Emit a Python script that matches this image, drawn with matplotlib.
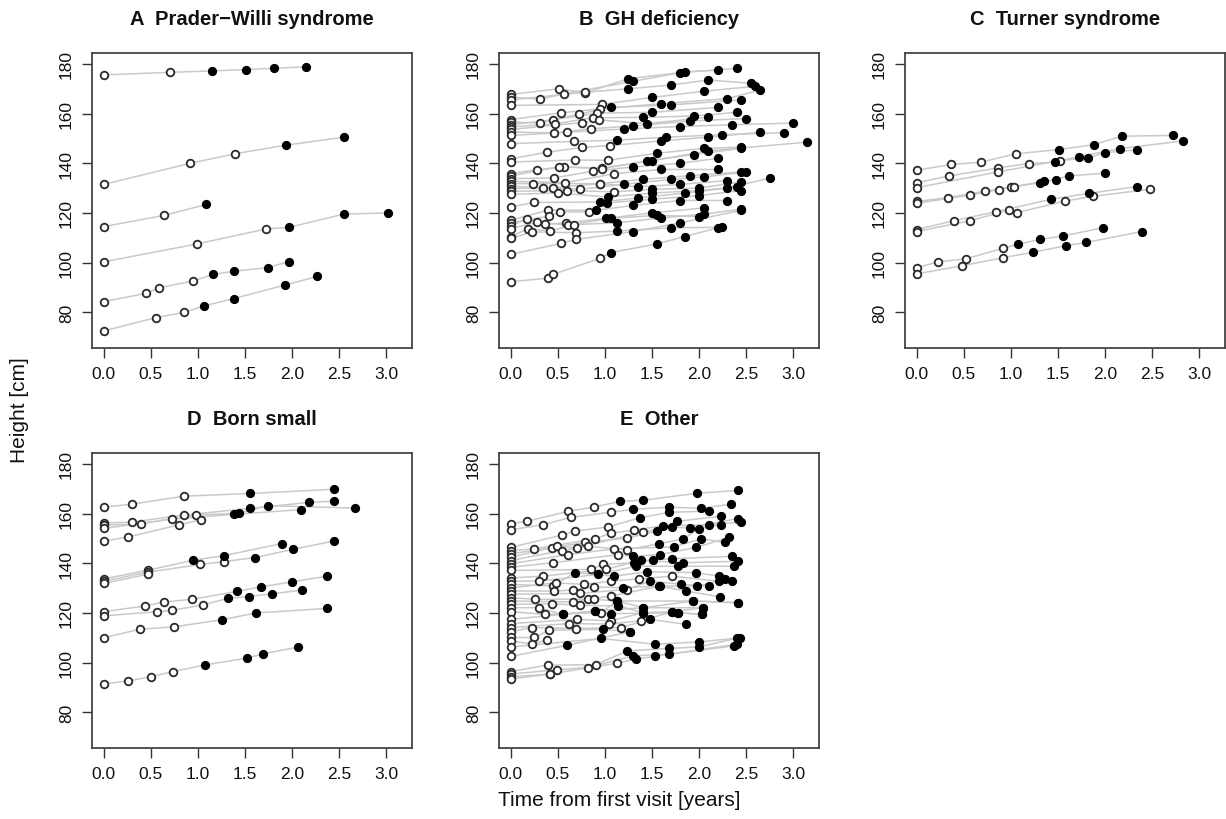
import matplotlib
matplotlib.use("Agg")
import matplotlib.pyplot as plt

plt.rcParams['font.family'] = ['Liberation Sans', 'DejaVu Sans']

# ---------------- data: per panel, per child: times (years), heights (cm), number of leading open points
A_t = [[0, 0.70, 1.15, 1.51, 1.81, 2.15],
       [0, 0.92, 1.39, 1.94, 2.55],
       [0, 0.64, 1.09],
       [0, 0.99, 1.72, 1.97, 2.55, 3.02],
       [0, 0.45, 0.59, 0.95, 1.16, 1.38, 1.74, 1.97],
       [0, 0.55, 0.85, 1.07, 1.38, 1.93, 2.27]]
A_h = [[175.6, 176.6, 177.2, 177.7, 178.3, 178.8],
       [131.5, 140.0, 143.8, 147.3, 150.5],
       [114.5, 119.0, 123.4],
       [100.3, 107.5, 113.5, 114.2, 119.5, 120.0],
       [84.3, 87.6, 89.9, 92.6, 95.2, 96.5, 98.0, 100.4],
       [72.5, 77.8, 79.9, 82.6, 85.5, 91.0, 94.4]]
A_open = [2, 3, 2, 3, 4, 3]

B_t = [[0, 0.51, 0.79, 1.25, 1.80, 2.40],
       [0, 0.31, 0.57, 1.30, 1.85, 2.20],
       [0, 0.79, 1.25, 1.70, 2.10, 2.55],
       [0, 0.97, 1.50, 2.05, 2.60],
       [0, 0.53, 0.95, 1.60, 2.30, 2.65],
       [0, 0.31, 0.72, 1.07, 1.70, 2.45],
       [0, 0.45, 0.92, 1.50, 2.20],
       [0, 0.47, 0.87, 1.40, 1.95, 2.40],
       [0, 0.76, 0.94, 1.45, 2.10],
       [0, 0.46, 0.85, 1.30, 1.90, 2.50],
       [0, 0.60, 1.20, 1.80, 2.35, 3.00],
       [0, 0.67, 1.13, 1.65, 2.25, 2.90],
       [0, 0.38, 0.76, 1.05, 1.60, 2.10, 2.65],
       [0, 0.68, 1.03, 1.55, 2.05, 2.45],
       [0, 0.28, 0.57, 0.97, 1.50, 2.10, 3.15],
       [0, 0.51, 0.97, 1.45, 1.95, 2.45],
       [0, 0.46, 0.87, 1.30, 1.80, 2.20],
       [0, 0.58, 1.10, 1.60, 2.20],
       [0, 0.24, 0.95, 1.40, 1.90, 2.45],
       [0, 0.34, 0.74, 1.20, 1.70, 2.05, 2.50],
       [0, 0.45, 0.95, 1.35, 1.80, 2.30],
       [0, 0.60, 1.10, 1.50, 2.00, 2.45],
       [0, 0.50, 1.03, 1.50, 2.00, 2.40],
       [0, 0.25, 0.95, 1.35, 1.85, 2.30, 2.75],
       [0, 0.40, 0.91, 1.30, 1.80, 2.30],
       [0, 0.41, 0.52, 0.83, 1.02, 1.50, 2.00, 2.45],
       [0, 0.17, 0.36, 0.59, 1.01, 1.50, 2.05],
       [0, 0.28, 0.61, 1.06, 1.55, 2.00],
       [0, 0.18, 0.42, 0.67, 1.13, 1.60, 2.05, 2.45],
       [0, 0.23, 0.69, 1.13, 1.70, 2.25],
       [0, 0.53, 0.69, 1.30, 1.80, 2.45],
       [0, 0.39, 0.45, 0.95, 1.06, 1.55, 1.85, 2.20]]
B_h = [[167.7, 170.0, 168.4, 174.0, 176.5, 178.2],
       [166.6, 165.8, 168.0, 173.0, 176.8, 177.5],
       [165.5, 168.6, 170.0, 171.5, 173.5, 172.2],
       [163.3, 163.7, 166.5, 169.0, 171.0],
       [157.6, 160.3, 161.9, 164.0, 166.0, 169.5],
       [156.6, 156.2, 159.8, 162.5, 163.5, 165.5],
       [155.5, 157.5, 160.2, 160.5, 162.5],
       [154.6, 155.9, 158.3, 158.5, 159.0, 160.5],
       [153.6, 156.4, 157.4, 156.0, 158.5],
       [152.6, 152.2, 153.9, 155.0, 157.0, 158.0],
       [151.2, 152.5, 153.8, 154.8, 155.5, 156.2],
       [147.9, 148.8, 149.3, 150.5, 151.5, 152.3],
       [141.8, 144.4, 146.4, 147.1, 149.0, 150.5, 152.5],
       [140.5, 141.3, 141.2, 144.0, 146.0, 146.5],
       [135.8, 137.4, 138.5, 138.1, 141.0, 145.0, 148.5],
       [134.9, 138.6, 137.8, 141.0, 143.5, 146.0],
       [133.8, 134.1, 136.8, 138.5, 140.0, 142.0],
       [132.7, 132.2, 135.8, 137.5, 137.5],
       [131.8, 131.8, 131.8, 133.5, 135.0, 136.5],
       [130.7, 130.2, 129.5, 131.5, 133.5, 134.5, 136.5],
       [129.8, 130.2, 131.8, 130.5, 131.5, 133.0],
       [128.7, 129.0, 128.5, 129.5, 130.0, 132.5],
       [127.5, 128.0, 126.4, 128.0, 129.0, 130.5],
       [122.4, 124.2, 124.4, 126.0, 128.0, 130.0, 134.0],
       [117.1, 121.1, 121.1, 123.0, 125.0, 125.0],
       [116.0, 118.8, 120.4, 120.4, 124.0, 125.5, 127.0, 129.0],
       [114.8, 117.5, 115.5, 116.0, 117.8, 120.0, 122.0],
       [113.7, 116.2, 115.1, 117.8, 119.0, 118.5],
       [110.4, 113.7, 112.7, 115.3, 116.0, 118.0, 119.5, 121.5],
       [109.7, 112.4, 112.0, 112.7, 114.0, 114.2],
       [103.3, 107.7, 109.3, 112.5, 116.0, 121.0],
       [92.3, 93.7, 95.3, 101.7, 104.0, 107.5, 110.5, 114.0]]
B_open = [3, 3, 2, 2, 3, 3, 3, 3, 3, 3, 2, 2, 4, 3, 4, 3, 3, 3, 3, 3, 3, 3, 2, 2,
          2, 4, 4, 3, 4, 3, 3, 4]

C_t = [[0, 0.36, 0.68, 1.05, 1.51, 1.88, 2.18, 2.72],
       [0, 0.34, 0.86, 1.19, 1.47, 1.72, 2.16, 2.83],
       [0, 0.86, 1.52, 1.82, 2.00, 2.34],
       [0, 0.33, 0.72, 1.00, 1.31, 1.62, 2.00],
       [0, 0.57, 0.87, 1.03, 1.35, 1.48],
       [0, 0.40, 0.84, 1.43, 1.83, 2.34],
       [0, 0.57, 0.98, 1.06, 1.58, 1.87, 2.48],
       [0, 0.23, 0.52, 0.92, 1.08, 1.31, 1.55, 1.98],
       [0, 0.48, 0.92, 1.24, 1.59, 1.80, 2.39]]
C_h = [[137.2, 139.5, 140.4, 143.8, 145.5, 147.5, 150.9, 151.2],
       [132.1, 134.9, 138.1, 139.9, 140.4, 142.7, 145.9, 149.0],
       [130.2, 136.5, 141.1, 142.1, 144.3, 145.4],
       [124.6, 126.2, 128.7, 130.5, 132.1, 134.9, 136.0],
       [123.9, 127.2, 129.4, 130.5, 132.8, 133.3],
       [113.3, 116.9, 120.5, 125.5, 127.9, 130.6],
       [112.5, 116.9, 121.2, 120.1, 124.8, 126.7, 129.5],
       [98.0, 100.3, 101.5, 105.8, 107.4, 109.3, 110.7, 114.0],
       [95.5, 98.7, 102.0, 104.2, 106.8, 108.1, 112.5]]
C_open = [4, 4, 3, 4, 4, 3, 7, 4, 3]

D_t = [[0, 0.30, 0.85, 1.55, 2.45],
       [0, 0.30, 0.85, 1.55, 2.18, 2.45],
       [0, 0.39, 0.98, 1.44, 1.75, 2.67],
       [0, 0.72, 1.38, 2.10],
       [0, 0.26, 0.80, 1.03],
       [0, 0.47, 0.95, 1.28, 1.89],
       [0, 0.47, 1.02, 1.28, 1.61, 2.01, 2.45],
       [0, 0.47],
       [0, 0.44, 0.64, 0.94, 1.42, 1.67, 2.00, 2.37],
       [0, 0.56, 0.72, 1.05, 1.32, 1.54, 1.79, 2.11],
       [0, 0.38, 0.75, 1.26, 1.62, 2.37],
       [0, 0.26, 0.50, 0.74, 1.08, 1.52, 1.69, 2.06]]
D_h = [[162.6, 163.8, 167.0, 168.1, 169.8],
       [156.2, 156.6, 159.4, 162.1, 164.5, 165.0],
       [155.3, 155.9, 159.4, 160.2, 163.2, 162.2],
       [154.0, 157.8, 159.7, 161.6],
       [148.9, 150.6, 155.5, 157.5],
       [133.7, 137.2, 141.2, 143.1, 147.9],
       [132.8, 136.4, 139.5, 140.7, 142.3, 145.6, 149.0],
       [131.9, 135.6],
       [120.5, 122.8, 124.4, 125.5, 128.7, 130.5, 132.5, 134.8],
       [118.8, 120.5, 121.0, 123.2, 125.9, 126.6, 127.7, 129.2],
       [110.0, 113.4, 114.4, 117.3, 120.0, 121.8],
       [91.5, 92.6, 94.3, 96.4, 99.1, 101.8, 103.5, 106.2]]
D_open = [3, 3, 3, 2, 4, 2, 4, 2, 4, 4, 3, 4]

E_t = [[0, 0.17, 0.61, 0.88, 1.16, 1.41, 1.98, 2.41],
       [0, 0.34, 0.64, 1.07, 1.30, 1.68, 2.02, 2.34],
       [0, 0.54, 0.68, 1.03, 1.37, 1.68, 2.11],
       [0, 0.25, 0.89, 1.07, 1.31, 1.62, 2.11, 2.45],
       [0, 0.44, 0.79, 1.23, 1.55, 1.77, 2.23],
       [0, 0.49, 0.70, 1.41, 1.71, 1.90, 2.41],
       [0, 0.54, 0.82, 1.24, 1.58, 1.83, 2.00, 2.23],
       [0, 0.61, 1.10, 1.73, 2.02, 2.28],
       [0, 0.45, 1.14, 1.30, 1.59, 1.97, 2.32],
       [0, 0.85, 0.98, 1.31, 1.51, 1.71, 2.35],
       [0, 0.34, 1.01, 1.38, 1.83, 2.41],
       [0, 0.30, 0.93, 1.33, 1.78, 2.37],
       [0, 0.45, 0.68, 1.10, 1.45, 1.97, 2.21],
       [0, 0.48, 0.78, 1.07, 1.36, 1.71, 2.21, 2.35],
       [0, 0.46, 0.66, 0.88, 1.19, 1.57, 1.98, 2.28],
       [0, 0.73, 1.23, 1.48, 1.81, 2.11],
       [0, 0.26, 0.82, 1.06, 1.59, 1.86, 2.22],
       [0, 0.66, 0.88, 1.13, 1.41, 1.94, 2.41],
       [0, 0.44, 0.73, 1.14, 1.41, 1.71, 2.04],
       [0, 0.30, 0.55, 0.89, 1.06, 1.78, 2.03],
       [0, 0.36, 0.96, 1.13, 1.94, 2.41],
       [0, 0.55, 0.89, 1.41, 2.04],
       [0, 0.70, 1.06, 1.41, 1.78, 2.03],
       [0, 0.62, 1.04, 1.38, 1.71],
       [0, 0.22, 0.69, 1.17, 1.48, 1.86],
       [0, 0.25, 0.41, 0.98, 1.27],
       [0, 0.23, 0.38],
       [0, 0.96, 1.53, 2.00, 2.44],
       [0, 0.60, 1.27],
       [0, 0.39, 0.90, 1.24, 1.68, 2.00, 2.40],
       [0, 0.49, 0.82, 1.30, 1.68, 2.37],
       [0, 0.42, 1.13, 1.33, 1.53, 2.40],
       [0, 0.42]]
E_h = [[155.9, 156.9, 160.9, 162.6, 164.9, 165.4, 168.2, 169.3],
       [153.5, 155.5, 158.5, 160.6, 161.7, 162.6, 162.1, 163.8],
       [146.4, 151.3, 152.9, 154.6, 158.3, 160.5, 161.0],
       [145.1, 145.8, 149.8, 152.2, 153.3, 155.1, 155.5, 156.6],
       [143.8, 146.2, 148.4, 150.1, 152.9, 156.9, 158.9],
       [142.4, 146.8, 146.2, 152.6, 154.6, 154.2, 158.0],
       [141.1, 145.1, 146.8, 145.5, 147.9, 149.8, 153.9, 155.5],
       [139.8, 143.5, 145.8, 146.6, 149.8, 148.4],
       [138.4, 140.2, 143.5, 142.8, 143.5, 146.4, 150.4],
       [137.1, 137.5, 139.5, 140.2, 141.5, 141.8, 142.8],
       [134.1, 134.8, 137.5, 141.2, 140.2, 140.8],
       [132.8, 132.8, 135.5, 138.8, 138.8, 138.8],
       [131.5, 130.8, 136.2, 134.8, 136.6, 136.2, 134.8],
       [130.1, 132.1, 131.5, 132.8, 133.7, 134.8, 132.8, 132.8],
       [128.8, 128.8, 129.2, 130.5, 130.1, 130.8, 130.8, 133.5],
       [127.5, 127.9, 129.4, 132.8, 131.5, 130.8],
       [126.1, 125.5, 125.5, 126.8, 130.8, 128.8, 126.5],
       [124.8, 124.4, 125.5, 124.8, 122.1, 124.8, 124.1],
       [123.5, 123.7, 123.1, 122.8, 120.1, 120.4, 122.1],
       [122.1, 122.1, 119.4, 120.8, 119.7, 120.1, 119.4],
       [120.5, 119.4, 120.1, 124.8, 124.8, 124.1],
       [117.4, 119.4, 120.8, 122.1, 122.1],
       [115.7, 117.4, 116.8, 120.1, 120.1, 119.4],
       [114.1, 115.7, 115.5, 116.8, 120.4],
       [112.4, 114.1, 113.7, 114.1, 117.4, 115.4],
       [110.1, 110.1, 113.0, 113.4, 112.4],
       [108.7, 107.4, 109.1],
       [106.3, 109.7, 107.4, 108.3, 110.0],
       [102.5, 107.0, 112.4],
       [96.4, 99.0, 99.1, 104.7, 105.7, 106.3, 109.8],
       [95.4, 97.1, 98.0, 102.7, 103.4, 106.7],
       [94.3, 95.4, 99.8, 101.4, 102.5, 107.4],
       [93.4, 95.4]]
E_open = [4, 4, 4, 5, 4, 4, 4, 3, 3, 3, 3, 2, 2, 6, 4, 3, 4, 4, 3, 2,
          3, 1, 3, 4, 4, 3, 3, 1, 1, 3, 3, 3, 2]

titles = ["A  Prader\u2212Willi syndrome", "B  GH deficiency", "C  Turner syndrome",
          "D  Born small", "E  Other"]
x_ticks = [0.0, 0.5, 1.0, 1.5, 2.0, 2.5, 3.0]
y_ticks = [80, 100, 120, 140, 160, 180]

# ---------------- layout (pixels)
W, H = 1226, 820
fig = plt.figure(figsize=(W / 100, H / 100), dpi=100)
BOX_W, BOX_H = 320, 295
lefts = [92, 499, 905]
tops = [54, 454]


def rect(l, t):
    return [l / W, 1 - (t + BOX_H) / H, BOX_W / W, BOX_H / H]


panels = [(A_t, A_h, A_open), (B_t, B_h, B_open), (C_t, C_h, C_open),
          (D_t, D_h, D_open), (E_t, E_h, E_open)]
positions = [(lefts[0], tops[0]), (lefts[1], tops[0]), (lefts[2], tops[0]),
             (lefts[0], tops[1]), (lefts[1], tops[1])]

edge = '#2a2a2a'
for (ts, hs, nopen), (l, t), title in zip(panels, positions, titles):
    ax = fig.add_axes(rect(l, t))
    for tt, hh, k in zip(ts, hs, nopen):
        ax.plot(tt, hh, color='#c9c9c9', lw=1.1, zorder=1, solid_capstyle='butt')
        ax.scatter(tt[:k], hh[:k], s=30, facecolor='white', edgecolor=edge,
                   linewidths=1.3, zorder=3)
        ax.scatter(tt[k:], hh[k:], s=34, facecolor='black', edgecolor='black',
                   linewidths=0.8, zorder=4)
    ax.set_xlim(-0.126, 3.276)
    ax.set_ylim(65.6, 184.4)
    ax.set_xticks(x_ticks)
    ax.set_xticklabels([f"{v:.1f}" for v in x_ticks])
    ax.set_yticks(y_ticks)
    ax.set_yticklabels([str(v) for v in y_ticks], rotation=90, va='center')
    ax.tick_params(direction='out', length=7, width=1.0, labelsize=12.5,
                   color='#333333', labelcolor='#111111', pad=6)
    for s in ax.spines.values():
        s.set_linewidth(1.3)
        s.set_color('#444444')
    ax.set_title(title, fontsize=14.5, fontweight='bold', pad=21, color='#111111')

fig.text(0.016, 0.5, "Height [cm]", rotation=90, ha='center', va='center',
         fontsize=15, color='#111111')
fig.text(0.505, 0.024, "Time from first visit [years]", ha='center', va='center',
         fontsize=15, color='#111111')

fig.savefig("out.png", dpi=100)
